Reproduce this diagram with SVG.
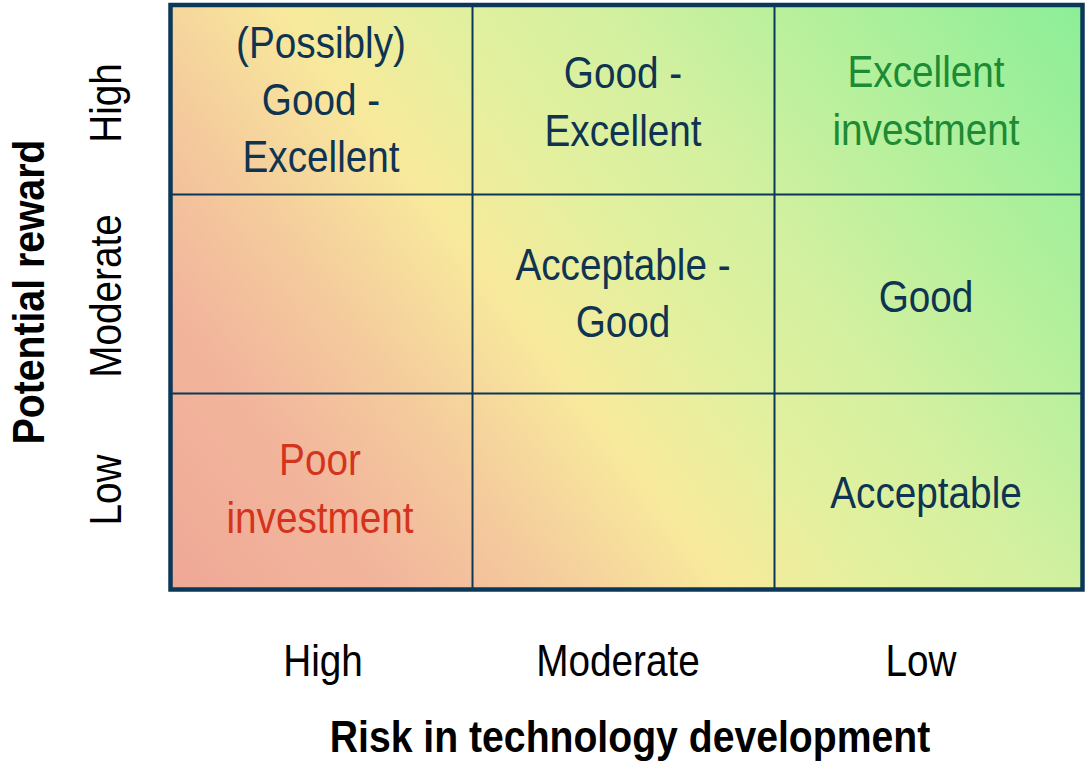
<svg xmlns="http://www.w3.org/2000/svg" width="1085" height="763" viewBox="0 0 1085 763">
  <defs>
    <!-- diagonal wash: salmon (bottom-left) through yellow to green (top-right) -->
    <linearGradient id="wash" gradientUnits="userSpaceOnUse" x1="170" y1="590" x2="1026" y2="-66">
      <stop offset="0" stop-color="#efa896"/>
      <stop offset="0.17" stop-color="#f2b69c"/>
      <stop offset="0.30" stop-color="#f5cf9c"/>
      <stop offset="0.41" stop-color="#f8e99c"/>
      <stop offset="0.52" stop-color="#e4f09e"/>
      <stop offset="0.65" stop-color="#d2f0a0"/>
      <stop offset="0.80" stop-color="#b4f09c"/>
      <stop offset="1" stop-color="#8cee98"/>
    </linearGradient>
  </defs>
  <style>
    .lbl { font-family: "Liberation Sans", Arial, sans-serif; font-size: 44px; text-anchor: middle; }
    .cell { fill: #0f3452; }
    .good { fill: #1d8a34; }
    .poor { fill: #d4341c; }
    .axis { fill: #000000; }
    .title { font-weight: bold; fill: #000000; }
    .grid { stroke: #0b3858; fill: none; }
  </style>

  <!-- matrix background and grid -->
  <g id="matrix">
    <rect x="170" y="5" width="913" height="585" fill="url(#wash)"/>
    <line class="grid" x1="472.5" y1="5" x2="472.5" y2="590" stroke-width="2"/>
    <line class="grid" x1="774.5" y1="5" x2="774.5" y2="590" stroke-width="2"/>
    <line class="grid" x1="170" y1="194.5" x2="1083" y2="194.5" stroke-width="2"/>
    <line class="grid" x1="170" y1="393.5" x2="1083" y2="393.5" stroke-width="2"/>
    <rect class="grid" x="170.5" y="5" width="912" height="584.5" stroke-width="4.5"/>
  </g>

  <!-- cells: row high -->
  <g id="cell-high-high" class="lbl cell" transform="translate(321 0) scale(0.88 1)">
    <text x="0" y="58">(Possibly)</text>
    <text x="0" y="115">Good -</text>
    <text x="0" y="172">Excellent</text>
  </g>
  <g id="cell-high-moderate" class="lbl cell" transform="translate(623 0) scale(0.88 1)">
    <text x="0" y="88">Good -</text>
    <text x="0" y="146">Excellent</text>
  </g>
  <g id="cell-high-low" class="lbl good" transform="translate(926 0) scale(0.88 1)">
    <text x="0" y="87">Excellent</text>
    <text x="0" y="145">investment</text>
  </g>

  <!-- cells: row moderate -->
  <g id="cell-moderate-moderate" class="lbl cell" transform="translate(623 0) scale(0.88 1)">
    <text x="0" y="280">Acceptable -</text>
    <text x="0" y="337">Good</text>
  </g>
  <g id="cell-moderate-low" class="lbl cell" transform="translate(926 0) scale(0.88 1)">
    <text x="0" y="312">Good</text>
  </g>

  <!-- cells: row low -->
  <g id="cell-low-high" class="lbl poor" transform="translate(320 0) scale(0.88 1)">
    <text x="0" y="475">Poor</text>
    <text x="0" y="533">investment</text>
  </g>
  <g id="cell-low-low" class="lbl cell" transform="translate(926 0) scale(0.88 1)">
    <text x="0" y="508">Acceptable</text>
  </g>

  <!-- risk axis (columns) -->
  <g id="x-axis" class="lbl axis">
    <text transform="translate(323 676) scale(0.88 1)">High</text>
    <text transform="translate(618 676) scale(0.88 1)">Moderate</text>
    <text transform="translate(921 676) scale(0.88 1)">Low</text>
    <text class="title" transform="translate(630 752) scale(0.89 1)">Risk in technology development</text>
  </g>

  <!-- reward axis (rows) -->
  <g id="y-axis" class="lbl axis">
    <text transform="translate(121 103) rotate(-90) scale(0.88 1)">High</text>
    <text transform="translate(121 296) rotate(-90) scale(0.88 1)">Moderate</text>
    <text transform="translate(121 490) rotate(-90) scale(0.88 1)">Low</text>
    <text class="title" transform="translate(44 292) rotate(-90) scale(0.89 1)">Potential reward</text>
  </g>
</svg>
